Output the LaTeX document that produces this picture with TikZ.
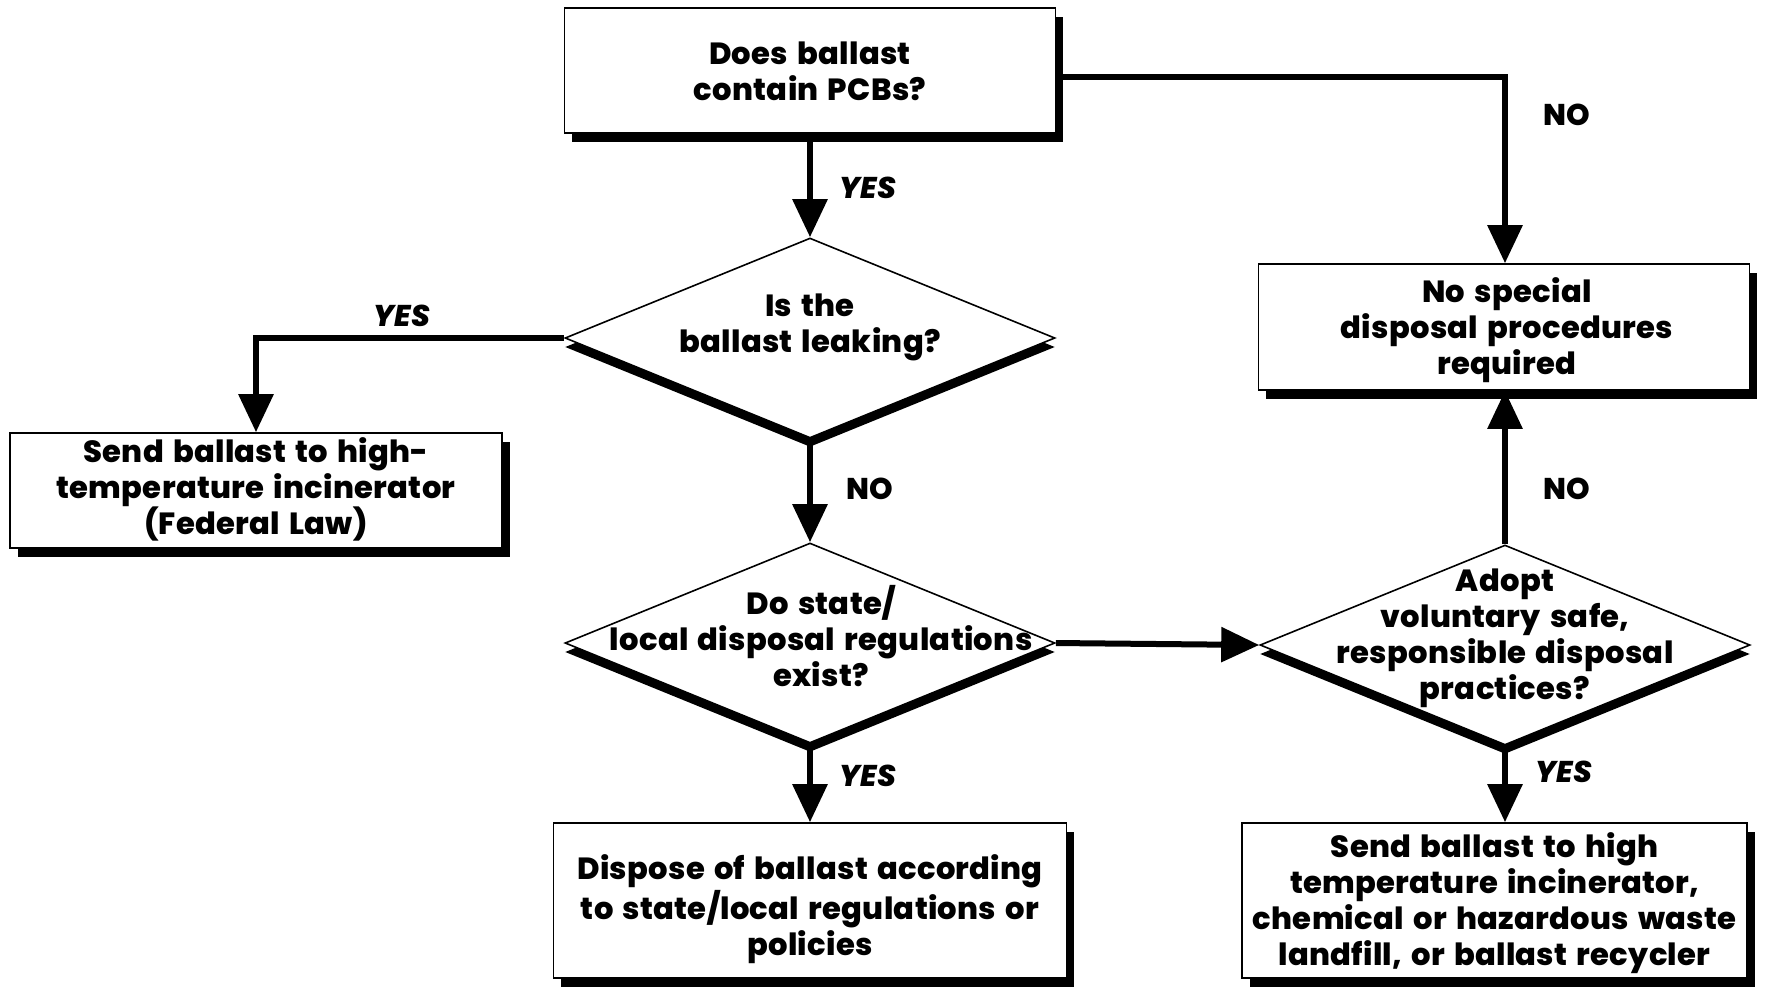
\documentclass[tikz,border=0pt]{standalone}
\usepackage{fontspec}
\setmainfont{Poppins}[UprightFont=* ExtraBold, ItalicFont=* ExtraBold Italic, BoldFont=* ExtraBold, LetterSpace=1, WordSpace=1.5]
\usetikzlibrary{arrows.meta,shapes.geometric,shadows,calc}
\begin{document}
\begin{tikzpicture}[x=0.5pt,y=-0.5pt,
  txt/.style={font=\fontsize{15.3}{18}\selectfont, align=center},
  box/.style={draw=black, line width=0.8pt, fill=white, rectangle, inner sep=0pt,
    drop shadow={shadow xshift=3.8pt, shadow yshift=-4.5pt, fill=black, opacity=1}},
  dia/.style={draw=black, line width=0.8pt, fill=white, diamond, inner sep=0pt,
    minimum width=245pt, minimum height=100pt,
    drop shadow={shadow xshift=0pt, shadow yshift=-4.5pt, fill=black, opacity=1}},
  conn/.style={line width=3pt, -{Triangle[width=17pt,length=19pt]}},
  lab/.style={font=\fontsize{15}{18}\selectfont},
  ylab/.style={font=\fontsize{15}{18}\selectfont\itshape}
]
\useasboundingbox (0,0) rectangle (1768,987);
% boxes
\node[box, minimum width=245.5pt, minimum height=62.5pt] (b1) at (810,70.5) {};
\node[txt] (t1) at (810,71) {Does ballast\\contain PCBs?};
\node[box, minimum width=246pt, minimum height=57.5pt] (b2) at (256,490.5) {};
\node[txt] (t2) at (256,489) {Send ballast to high-\\temperature incinerator\\(Federal Law)};
\node[box, minimum width=245.5pt, minimum height=63pt] (b3) at (1504,327) {};
\node[txt] (t3) at (1507,330) {No special\\disposal procedures\\required};
\node[box, minimum width=256.5pt, minimum height=77.5pt] (b4) at (810,900.5) {};
\node[txt] (t4) at (810,909) {Dispose of ballast according\\to state/local regulations or\\policies};
\node[box, minimum width=252.5pt, minimum height=77.5pt] (b5) at (1494.5,900.5) {};
\node[txt] (t5) at (1494.5,903) {Send ballast to high\\temperature incinerator,\\chemical or hazardous waste\\landfill, or ballast recycler};
% diamonds
\node[dia] (d1) at (810,338) {};
\node[txt] (e1) at (810,327) {Is the\\ballast leaking?};
\node[dia] (d2) at (810,643) {};
\node[txt] (e2) at (821,636) {Do state/\\local disposal regulations\\exist?};
\node[dia] (d3) at (1505,645) {};
\node[txt] (e3) at (1505,638) {Adopt\\voluntary safe,\\responsible disposal\\practices?};
% connectors
\draw[conn] (b1.south) -- (d1.north);
\draw[conn] (d1.west) -| (b2.north);
\draw[conn] (d1.south) -- (d2.north);
\draw[conn] (d2.south) -- (b4.north);
\draw[conn] (d2.east) -- (d3.west);
\draw[conn] (d3.north) -- (d3.north |- b3.south);
\draw[conn] (d3.south) -- (d3.south |- b5.north);
\coordinate (c1) at ($(b1.east)+(0,6)$);
\draw[conn] (c1) -| (d3.north |- b3.north);
% labels
\node[ylab] (l1) at (868,188) {YES};
\node[ylab] (l2) at (402,316) {YES};
\node[lab] (l3) at (870,489) {NO};
\node[ylab] (l4) at (868,776) {YES};
\node[lab] (l5) at (1567,115) {NO};
\node[lab] (l6) at (1567,489) {NO};
\node[ylab] (l7) at (1564,772) {YES};
\end{tikzpicture}
\end{document}
